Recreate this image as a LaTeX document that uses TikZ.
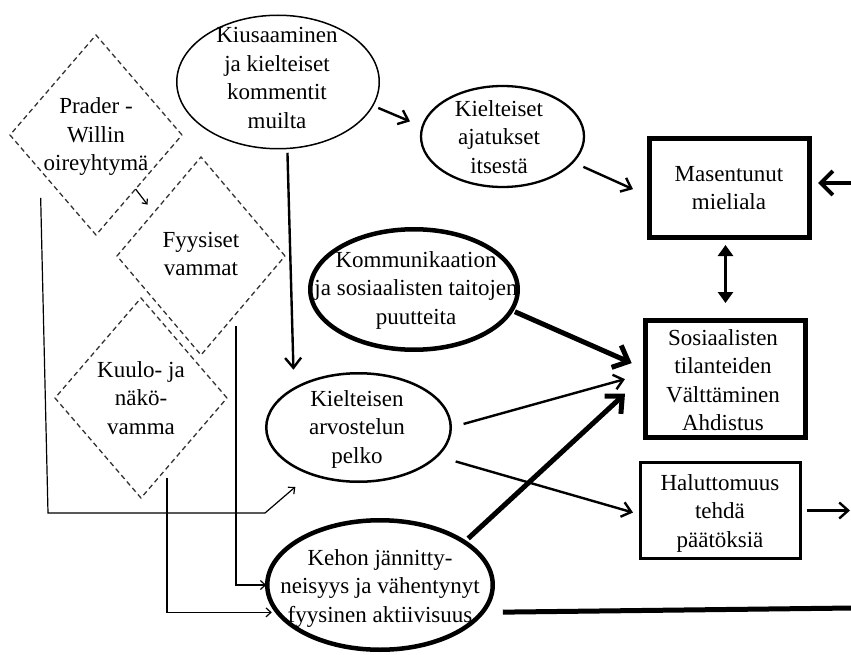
\documentclass[tikz,border=0pt]{standalone}
\usepackage{fontspec}
\setmainfont{Liberation Serif}
\usetikzlibrary{shapes.geometric,arrows.meta,calc}
\begin{document}
\begin{tikzpicture}[x=1pt,y=-1pt,
  txt/.style={align=center, font=\fontsize{23}{28.5}\selectfont, inner sep=0pt},
  ell/.style={draw, ellipse, inner sep=0pt, outer sep=0pt},
  box/.style={draw, rectangle, inner sep=0pt, outer sep=0pt},
  dia/.style={draw=black!80, diamond, dash pattern=on 5pt off 3.5pt, line width=1.3pt, inner sep=0pt, outer sep=0pt},
  thinln/.style={line width=1.2pt},
  medln/.style={line width=2.4pt},
  thickln/.style={line width=5pt},
  thinarr/.style={-{Straight Barb[length=5pt,width=9pt]}},
  medarr/.style={-{Straight Barb[length=9pt,width=15pt]}},
  bigarr/.style={-{Straight Barb[length=13pt,width=24pt]}}
]
\useasboundingbox (0,0) rectangle (851,655);

% diamonds
\node[dia, minimum width=172pt, minimum height=200pt] (d1) at (96,135) {};
\node[dia, minimum width=168pt, minimum height=198pt] (d2) at (201,256) {};
\node[dia, minimum width=172pt, minimum height=200pt] (d3) at (141,398) {};

% ellipses
\node[ell, line width=1.5pt, minimum width=202.5pt, minimum height=133.5pt] (kius) at (278,82) {};
\node[ell, line width=2.3pt, minimum width=163pt, minimum height=101pt] (kaj) at (502.5,136.5) {};
\node[ell, line width=4.5pt, minimum width=207.5pt, minimum height=120.5pt] (kom) at (414,289.5) {};
\node[ell, line width=2.5pt, minimum width=184.5pt, minimum height=108.5pt] (karv) at (358.5,427.5) {};
\node[ell, line width=4.5pt, minimum width=225.5pt, minimum height=129.5pt] (kehon) at (380,585) {};

% boxes
\node[box, line width=5pt, minimum width=160pt, minimum height=99.5pt] (mas) at (729,188) {};
\node[box, line width=5pt, minimum width=160pt, minimum height=117pt] (sos) at (725.5,379) {};
\node[box, line width=3pt, minimum width=160pt, minimum height=96pt] (hal) at (720.5,510.5) {};

% texts
\node[txt] (d1t) at (96,137) {Prader -\\Willin\\oireyhtymä};
\node[txt] (d2t) at (201,254) {Fyysiset\\vammat};
\node[txt] (d3t) at (141,398) {Kuulo- ja\\näkö-\\vamma};
\node[txt] (kiust) at (277,78) {Kiusaaminen\\ja kielteiset\\kommentit\\muilta};
\node[txt] (kajt) at (499,137) {Kielteiset\\ajatukset\\itsestä};
\node[txt] (komt) at (416,290) {Kommunikaation\\ja sosiaalisten taitojen\\puutteita};
\node[txt] (karvt) at (357,429) {Kielteisen\\arvostelun\\pelko};
\node[txt] (kehont) at (380,588) {Kehon jännitty-\\neisyys ja vähentynyt\\fyysinen aktiivisuus};
\node[txt] (mast) at (729,188) {Masentunut\\mieliala};
\node[txt] (sost) at (723,380) {Sosiaalisten\\tilanteiden\\Välttäminen\\Ahdistus};
\node[txt] (halt) at (720,513) {Haluttomuus\\tehdä\\päätöksiä};

% free ends
\coordinate (rightA) at (852,183);
\coordinate (rightB) at (850,510.5);
\coordinate (rightC) at (853,608);

% connectors
\draw[medln, medarr, shorten <=6pt, shorten >=13.6pt] (kius.-14) -- (kaj.173.6);
\draw[medln, medarr, shorten <=11.6pt, shorten >=17.6pt] (kaj.-20.2) -- (mas.186.7);
\draw[line width=4pt, -{Straight Barb[length=12pt,width=24pt]}, shorten >=9pt] (rightA) -- (mas.east |- rightA);
\draw[line width=3.5pt, {Triangle[length=11pt,width=15pt]}-{Triangle[length=11pt,width=15pt]}, shorten <=7.25pt, shorten >=17.5pt] (mas.south -| sos.north) -- (sos.north);
\draw[medln, -{Straight Barb[length=10pt,width=16pt]}, shorten <=4.3pt, shorten >=19pt] (kius.-82.4) -- (karv.149.4);
\draw[thickln, bigarr, shorten <=3.8pt, shorten >=15.1pt] (kom.-12) -- (sos.173.2);
\draw[medln, medarr, shorten <=13.3pt, shorten >=21.3pt] (karv.-0.56) -- (sos.176.6);
\draw[thickln, bigarr, shorten <=5.3pt, shorten >=27.9pt] (kehon.27.1) -- (sos.177.9);
\draw[medln, medarr, shorten <=19.5pt, shorten >=7.8pt] (karv.-20.6) -- (hal.183.3);
\draw[medln, -{Straight Barb[length=9pt,width=16pt]}, shorten <=6pt] (hal.east) -- (rightB);
\draw[thickln, shorten <=20.6pt] (kehon.-15.6) -- (rightC);

% thin connectors from diamonds
\draw[thinln, -{Straight Barb[length=4pt,width=7pt]}, shorten >=10.2pt]
  ($(d1.east)!0.54!(d1.south)$) -- ($(d2.north)!0.563!(d2.west)$);
\draw[thinln, thinarr, shorten <=28pt, shorten >=20pt]
  ($(d1.west)!0.349!(d1.south)$) -- (48,513) -- (265,513) -- (karv.224.6);
\draw[thinln, thinarr, shorten <=12pt, shorten >=1pt]
  ($(d2.east)!0.583!(d2.south)$) |- (kehon.west);
\draw[thinln, thinarr, shorten <=10pt, shorten >=6pt]
  ($(d3.east)!0.698!(d3.south)$) |- (kehon.195.4);
\end{tikzpicture}
\end{document}
